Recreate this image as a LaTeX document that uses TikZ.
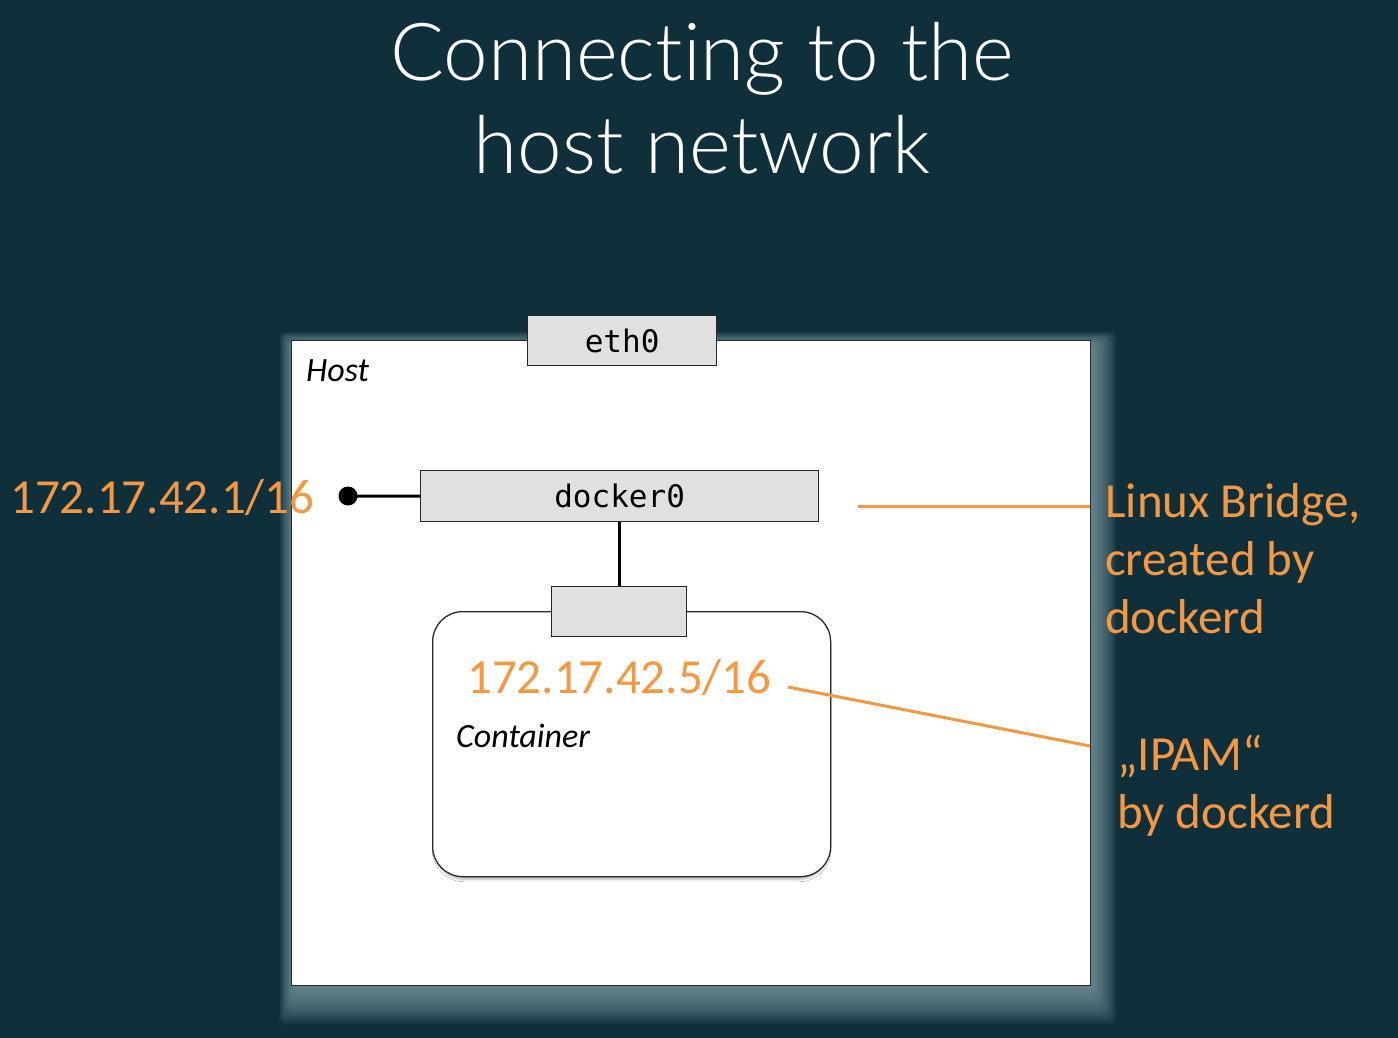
\documentclass[tikz,border=0pt]{standalone}
\usepackage{fontspec}
\setmainfont{Carlito}
\newfontfamily\titlefont[Ligatures=NoCommon]{Lato Light}
\newfontfamily\monofont{DejaVu Sans Mono}
\usetikzlibrary{shadows.blur}
\definecolor{bgc}{RGB}{15,48,59}
\definecolor{glowc}{RGB}{150,180,188}
\definecolor{orng}{RGB}{245,152,66}
\definecolor{boxgray}{RGB}{224,224,224}
\definecolor{edgec}{RGB}{40,40,40}
\tikzset{
  portbox/.style={draw=edgec, line width=1.2pt, fill=boxgray, minimum height=50pt, inner sep=0pt, font=\monofont\fontsize{31}{36}\selectfont},
  orangetext/.style={text=orng, font=\fontsize{49}{58}\selectfont, inner sep=0pt},
  orangeline/.style={draw=orng, line width=3pt},
  italabel/.style={font=\itshape\fontsize{34}{38}\selectfont, inner sep=0pt, anchor=west},
  glowlayer/.style={fill=glowc, fill opacity=0.045, rounded corners=6pt},
}
\begin{document}
\begin{tikzpicture}[x=1pt,y=-1pt]
\useasboundingbox[fill=bgc] (0,0) rectangle (1398,1038);
% title
\node[text=white, font=\titlefont\fontsize{80}{93}\selectfont, align=center, inner sep=0pt, anchor=north] (title) at (702,22) {Connecting to the\\host network};
% host glow
\foreach \i in {1,...,26}{
  \fill[glowlayer] (291+4-0.6*\i,340+6-0.55*\i) rectangle (1090+0.5+1.0*\i,985+2+1.45*\i);
}
% host box
\node[draw=edgec, line width=1.4pt, fill=white, minimum width=799pt, minimum height=645pt, inner sep=0pt, anchor=north west] (host) at (291,340) {};
\node[italabel] (hostlbl) at (306,371) {Host};
% eth0
\node[portbox, minimum width=189pt, anchor=north west] (eth) at (527,315) {eth0};
% docker0
\node[portbox, minimum width=398pt, minimum height=51pt, anchor=north west] (docker) at (420,470) {docker0};
% container
\node[draw=edgec, line width=1.3pt, fill=white, rounded corners=30pt, minimum width=398pt, minimum height=265pt, inner sep=0pt, anchor=north west,
  blur shadow={shadow xshift=0pt, shadow yshift=-4pt, shadow scale=0.99, shadow blur radius=2.5pt, shadow opacity=30}] (cont) at (432,611) {};
\node[portbox, minimum width=135pt, anchor=north west] (port) at (551,586) {};
\node[italabel] (contlbl) at (456,736) {Container};
% connectors
\fill[black] (348,496) circle (9.5pt);
\coordinate (dot) at (348,496);
\draw[line width=3pt] (dot) -- (docker.west);
\draw[line width=3pt] (docker.south -| 619,0) -- (port.north -| 619,0);
% orange labels
\node[orangetext, anchor=west] (ip1) at (10,498) {172.17.42.1/16};
\node[orangetext, anchor=west] (ip5) at (467,678) {172.17.42.5/16};
\node[orangetext, anchor=north west, align=left] (lb) at (1105,483) {Linux Bridge,\\created by\\dockerd};
\node[orangetext, anchor=north west, align=left] (ipam) at (1117,735) {„IPAM“\\by dockerd};
\coordinate (lbs) at (858,506);
\coordinate (lbe) at (1090,506);
\coordinate (ips) at (788,687);
\coordinate (ipe) at (1090,746);
\draw[orangeline] (lbs) -- (lbe);
\draw[orangeline] (ips) -- (ipe);
\end{tikzpicture}
\end{document}
